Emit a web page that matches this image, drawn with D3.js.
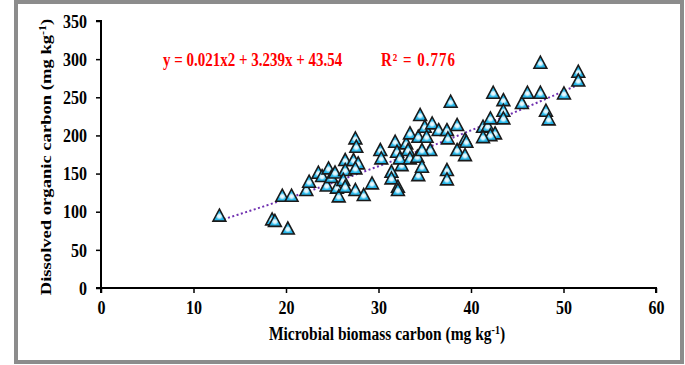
<!DOCTYPE html>
<html><head><meta charset="utf-8">
<script src="https://cdn.jsdelivr.net/npm/d3@7"></script>
<style>body{margin:0;background:#fff}svg{display:block}</style>
</head><body>
<script>
const mbc = [12.8,18.5,18.8,20.2,19.6,20.6,22.2,22.5,23.5,23.9,24.6,24.4,24.9,25.3,25.5,25.7,26.4,27.3,27.8,26.4,27.5,26.2,26.4,27.5,28.4,27.5,27.6,29.3,30.2,30.3,31.4,31.4,32.1,32.1,31.8,32.0,32.5,32.3,33.0,33.4,33.2,33.4,34.3,34.2,34.3,34.5,34.7,35.0,35.2,35.6,35.8,36.5,37.4,37.5,37.4,37.4,37.8,38.5,38.5,34.7,39.35,39.5,39.35,41.3,41.8,42.1,42.6,42.1,41.3,42.4,43.5,43.5,43.5,45.5,46.1,47.5,47.5,48.1,48.4,50.05,51.6,51.6];
const doc = [93,88,86,76,119,119,126.5,137.3,149.1,144.8,154.9,132.4,143.5,149.4,129.7,118.2,165.8,165.8,161.5,152.7,154.9,139.6,130.8,126.5,119.9,194.2,183.2,135.2,178.9,168,150.4,141.8,130.8,126.5,189.8,176.7,159.2,168,187.7,200.8,178.9,168,196.3,170.1,146.1,224.8,157,209.4,196.3,178.9,213.9,205.1,205.1,194.2,152.7,140.5,242.2,211.7,178.9,178.9,192.9,189.8,172.3,209.4,210.3,220.4,200.8,198.5,195.9,254,244.4,230.4,220.4,240.5,254,254,293.3,230.4,219.1,253,281.5,270];
const xTicks = [0,10,20,30,40,50,60];
const yTicks = [0,50,100,150,200,250,300,350];
const coef = [0.021, 3.239, 43.54];
const eqText = "y = 0.021x2 + 3.239x + 43.54";
const r2Text = "R² = 0.776";

const W=685,H=365, SY=1.2;
const svg=d3.select("body").append("svg").attr("width",W).attr("height",H);
svg.append("rect").attr("x",16).attr("y",2).attr("width",666).attr("height",360)
  .attr("fill","#fff").attr("stroke","#8c8c8c").attr("stroke-width",4);

const defs=svg.append("defs");
const rg=defs.append("radialGradient").attr("id","mk").attr("cx","50%").attr("cy","60%").attr("r","50%");
rg.append("stop").attr("offset","0%").attr("stop-color","#ffffff");
rg.append("stop").attr("offset","30%").attr("stop-color","#c8eefc");
rg.append("stop").attr("offset","55%").attr("stop-color","#2fbcec");
rg.append("stop").attr("offset","100%").attr("stop-color","#1aa8e0");

const x=d3.scaleLinear().domain([0,60]).range([101,656]);
const y=d3.scaleLinear().domain([0,350]).range([288,21]);
const font="'Liberation Serif','Times New Roman',serif";

const gx=svg.append("g").attr("transform","translate(0,288)")
  .call(d3.axisBottom(x).tickValues(xTicks).tickSize(5).tickPadding(5).tickFormat(d3.format("d")));
const gy=svg.append("g").attr("transform","translate(101,0)")
  .call(d3.axisLeft(y).tickValues(yTicks).tickSize(5).tickPadding(9).tickFormat(d3.format("d")));
[gx,gy].forEach(g=>{
  g.select(".domain").attr("stroke","#000").attr("stroke-width",2);
  g.selectAll(".tick line").attr("stroke","#000").attr("stroke-width",1.5);
  g.selectAll("text").attr("font-family",font).attr("font-weight","bold").attr("font-size",16)
    .attr("fill","#000").attr("transform",`scale(1,${SY})`);
});
gy.select(".domain").attr("d","M-5,21H0V288H-5");
gx.select(".domain").attr("d","M101,5V0H656V5");

// trendline
const xs=d3.range(12.8,51.61,0.2);
const line=d3.line().x(d=>x(d)).y(d=>y(coef[0]*d*d+coef[1]*d+coef[2]));
svg.append("path").datum(xs).attr("d",line).attr("fill","none")
  .attr("stroke","#7030b0").attr("stroke-width",2).attr("stroke-dasharray","2,2.5");

// markers
const tri=d3.symbol().type(d3.symbolTriangle).size(72);
svg.append("g").selectAll("path").data(mbc.map((v,i)=>[v,doc[i]])).join("path")
  .attr("d",tri).attr("transform",d=>`translate(${x(d[0])},${y(d[1])}) scale(1,1.08)`)
  .attr("fill","url(#mk)").attr("stroke","#1a1a1a").attr("stroke-width",1.5);

// equation
svg.append("g").attr("transform",`translate(163,66) scale(1,${SY})`).append("text")
  .attr("font-family",font).attr("font-weight","bold").attr("font-size",15).attr("fill","#ff0000").text(eqText);
svg.append("g").attr("transform",`translate(381,66) scale(1,${SY})`).append("text")
  .attr("font-family",font).attr("font-weight","bold").attr("font-size",15).attr("fill","#ff0000")
  .attr("textLength",74).attr("lengthAdjust","spacing").text(r2Text);

// axis titles
const xt=svg.append("g").attr("transform",`translate(387,340) scale(1,${SY})`).append("text")
  .attr("text-anchor","middle")
  .attr("font-family",font).attr("font-weight","bold").attr("font-size",15.5).attr("fill","#000");
xt.append("tspan").text("Microbial biomass carbon (mg kg");
xt.append("tspan").attr("dy",-5).attr("font-size",10).text("-1");
xt.append("tspan").attr("dy",5).text(")");

const yt=svg.append("g").attr("transform",`translate(51,157) rotate(-90) scale(${SY},1)`).append("text")
  .attr("text-anchor","middle")
  .attr("font-family",font).attr("font-weight","bold").attr("font-size",15.5).attr("fill","#000");
yt.append("tspan").text("Dissolved organic carbon (mg kg");
yt.append("tspan").attr("dy",-5).attr("font-size",10).text("-1");
yt.append("tspan").attr("dy",5).text(")");
</script>
</body></html>
